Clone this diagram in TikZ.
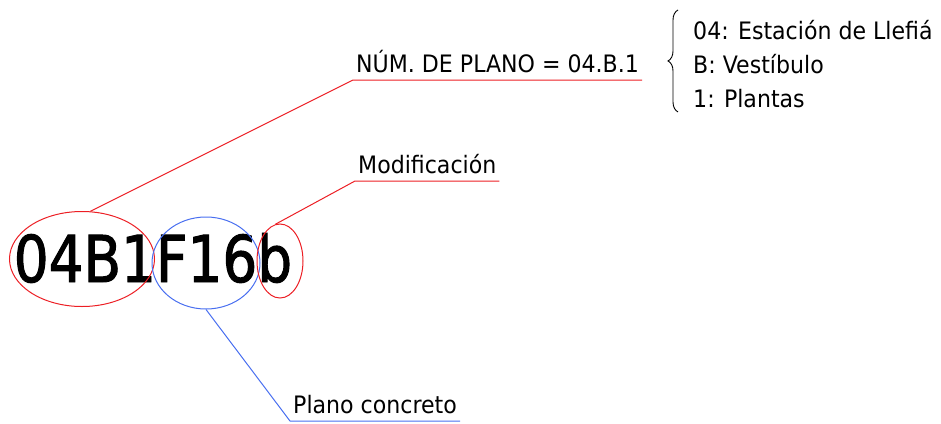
\documentclass[tikz,border=0pt]{standalone}
\usepackage{fontspec}
\usepackage{tikz}
\usetikzlibrary{shapes.geometric,decorations.pathreplacing,calc}
\newfontfamily\lblfont[FakeStretch=0.92]{DejaVu Sans}
\newfontfamily\codefont[FakeStretch=0.85,FakeBold=1.5]{DejaVu Sans}
\definecolor{marcared}{RGB}{236,30,36}
\definecolor{marcablue}{RGB}{72,110,240}
\tikzset{
	lbl/.style={font=\lblfont\fontsize{24}{34}\selectfont, inner xsep=3pt, inner ysep=1pt, text depth=6pt, anchor=south west},
	rojo/.style={draw=marcared, line width=1pt},
	azul/.style={draw=marcablue, line width=1pt},
	marca/.style={ellipse, inner sep=0pt}
}

\begin{document}
\begin{tikzpicture}[x=1pt,y=-1pt]
			\useasboundingbox (0,0) rectangle (941,423);
			\node[anchor=base, font=\codefont\fontsize{64.5}{70}\selectfont, inner sep=0pt] (codigo) at (153,282) {04B1F16b};

			\node[marca, rojo, minimum width=145, minimum height=95] (grupo) at (82,259) {};
			\node[marca, azul, minimum width=108, minimum height=92] (concreta) at (206,263) {};
			\node[marca, rojo, minimum width=46, minimum height=74] (modifica) at (280,261) {};

			\node[lbl] (numplano) at (353,80) {NÚM. DE PLANO = 04.B.1};
			\node[lbl] (modif) at (355,181) {Modificación};
			\node[lbl] (concreto) at (290,421) {Plano concreto};

			\node[font=\lblfont\fontsize{24}{34}\selectfont, align=left, inner sep=0pt, anchor=north west] (desc) at (693,20) {04: Estación de Llefiá\\B: Vestíbulo\\1: Plantas};
			\draw[decorate, decoration={brace, amplitude=10pt}, line width=0.9pt] ($(desc.south west)+(-15,4)$) -- ($(desc.north west)+(-15,-10)$);

			\draw[rojo] (grupo.80) -- (numplano.south west) -- (numplano.south east);
			\draw[rojo] (modifica.97) -- (modif.south west) -- (modif.south east);
			\draw[azul] (concreta.south) -- (concreto.south west) -- (concreto.south east);
		\end{tikzpicture}
\end{document}
